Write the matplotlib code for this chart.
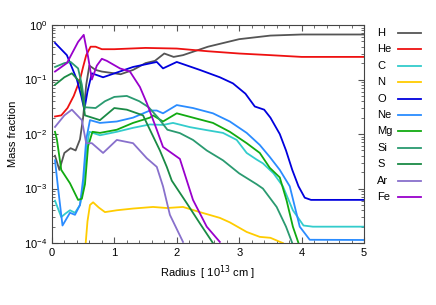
import matplotlib.pyplot as plt
from matplotlib.lines import Line2D
import numpy as np

plt.rcParams['font.family'] = ['Liberation Sans', 'DejaVu Sans']
plt.rcParams['font.size'] = 8

# --- mass fractions vs radius (10^13 cm) ---
h_r = [0.05, 0.12, 0.2, 0.3, 0.38, 0.45, 0.5, 0.55, 0.6, 0.7, 0.8, 1.0, 1.1, 1.3, 1.5, 1.65, 1.8, 1.95, 2.1, 2.5, 3.0, 3.5, 4.0, 5.0]
h_x = [4e-3, 2.2e-3, 4.5e-3, 5.5e-3, 5e-3, 8e-3, 0.02, 0.08, 0.18, 0.15, 0.14, 0.13, 0.125, 0.15, 0.2, 0.22, 0.3, 0.26, 0.28, 0.4, 0.55, 0.64, 0.67, 0.67]

he_r = [0.05, 0.15, 0.25, 0.35, 0.45, 0.5, 0.55, 0.62, 0.7, 0.8, 1.0, 1.5, 2.0, 2.5, 3.0, 3.5, 4.0, 5.0]
he_x = [0.021, 0.022, 0.03, 0.05, 0.1, 0.17, 0.28, 0.4, 0.4, 0.36, 0.36, 0.38, 0.37, 0.33, 0.3, 0.28, 0.26, 0.26]

c_r = [0.05, 0.15, 0.22, 0.29, 0.37, 0.45, 0.5, 0.55, 0.6, 0.77, 1.04, 1.3, 1.57, 1.78, 1.94, 2.21, 2.48, 2.74, 2.96, 3.12, 3.28, 3.38, 3.55, 3.7, 3.86, 4.03, 4.18, 5.0]
c_x = [6e-4, 3e-4, 3.5e-4, 4e-4, 3.6e-4, 5e-4, 1e-3, 5e-3, 0.011, 0.0095, 0.011, 0.013, 0.015, 0.0147, 0.016, 0.0134, 0.0118, 0.0105, 0.0078, 0.0045, 0.0034, 0.0029, 0.0019, 0.0011, 4e-4, 2.1e-4, 2e-4, 2e-4]

n_r = [0.52, 0.57, 0.61, 0.66, 0.75, 0.85, 1.04, 1.3, 1.62, 1.84, 2.1, 2.37, 2.69, 2.85, 3.12, 3.33, 3.5, 3.7]
n_x = [5e-5, 2.5e-4, 5e-4, 5.6e-4, 4.5e-4, 3.7e-4, 4e-4, 4.3e-4, 4.6e-4, 4.4e-4, 4.6e-4, 3.7e-4, 2.9e-4, 2.4e-4, 1.6e-4, 1.3e-4, 1.25e-4, 1e-4]

o_r = [0.05, 0.24, 0.4, 0.47, 0.52, 0.57, 0.64, 0.82, 1.3, 1.68, 1.78, 2.0, 2.37, 2.69, 2.9, 3.1, 3.25, 3.4, 3.5, 3.65, 3.75, 3.85, 3.95, 4.05, 4.15, 5.0]
o_x = [0.47, 0.28, 0.1, 0.05, 0.028, 0.06, 0.13, 0.11, 0.17, 0.21, 0.16, 0.21, 0.15, 0.11, 0.085, 0.055, 0.032, 0.028, 0.02, 0.01, 0.005, 0.0022, 0.0011, 6.8e-4, 6.2e-4, 6.2e-4]

ne_r = [0.05, 0.1, 0.17, 0.29, 0.37, 0.45, 0.5, 0.55, 0.61, 0.77, 1.04, 1.3, 1.57, 1.68, 1.78, 2.0, 2.26, 2.58, 2.85, 3.12, 3.33, 3.49, 3.65, 3.81, 3.97, 4.13, 5.0]
ne_x = [3.3e-3, 1e-3, 2.1e-4, 3.6e-4, 3.3e-4, 5e-4, 1.5e-3, 8e-3, 0.018, 0.016, 0.017, 0.02, 0.027, 0.027, 0.024, 0.034, 0.03, 0.024, 0.017, 0.0105, 0.0063, 0.0038, 0.0022, 0.0011, 2e-4, 1.15e-4, 1.14e-4]

mg_r = [0.05, 0.08, 0.15, 0.29, 0.42, 0.48, 0.53, 0.58, 0.65, 0.77, 1.04, 1.3, 1.57, 1.62, 1.78, 2.0, 2.26, 2.58, 2.85, 3.12, 3.33, 3.49, 3.65, 3.76, 3.86, 3.95]
mg_x = [0.011, 8e-3, 2.2e-3, 1.25e-3, 6.2e-4, 6.5e-4, 1.2e-3, 6e-3, 0.011, 0.0105, 0.012, 0.016, 0.02, 0.022, 0.017, 0.024, 0.02, 0.016, 0.011, 0.0068, 0.0045, 0.0024, 0.0016, 6e-4, 2e-4, 1e-4]

si_r = [0.05, 0.2, 0.3, 0.42, 0.48, 0.53, 0.7, 0.85, 1.0, 1.2, 1.4, 1.55, 1.7, 1.85, 2.05, 2.26, 2.48, 2.74, 3.0, 3.28, 3.38, 3.6, 3.75, 3.85]
si_x = [0.17, 0.2, 0.21, 0.16, 0.08, 0.031, 0.03, 0.04, 0.048, 0.05, 0.04, 0.031, 0.02, 0.012, 0.0104, 0.0078, 0.005, 0.0033, 0.0019, 0.0012, 0.001, 4.6e-4, 2e-4, 1e-4]

s_r = [0.05, 0.2, 0.32, 0.45, 0.5, 0.53, 0.77, 1.0, 1.2, 1.46, 1.57, 1.73, 1.84, 1.92, 2.16, 2.37, 2.58]
s_x = [0.08, 0.11, 0.13, 0.09, 0.04, 0.022, 0.018, 0.03, 0.028, 0.022, 0.012, 0.005, 0.0025, 1.4e-3, 5.4e-4, 2.3e-4, 1e-4]

ar_r = [0.05, 0.2, 0.32, 0.48, 0.55, 0.64, 0.82, 1.04, 1.3, 1.52, 1.68, 1.78, 1.89, 2.1]
ar_x = [0.0135, 0.022, 0.028, 0.018, 0.0068, 0.0068, 0.0045, 0.0078, 0.0068, 0.0036, 0.0025, 1.1e-3, 3.3e-4, 1.05e-4]

fe_r = [0.05, 0.24, 0.42, 0.51, 0.58, 0.64, 0.72, 0.8, 0.88, 1.09, 1.25, 1.41, 1.52, 1.68, 1.78, 2.05, 2.26, 2.48, 2.69]
fe_x = [0.14, 0.2, 0.49, 0.66, 0.26, 0.1, 0.18, 0.24, 0.22, 0.16, 0.14, 0.073, 0.037, 0.012, 0.0058, 0.0035, 6.2e-4, 2e-4, 1.05e-4]

species = ['H', 'He', 'C', 'N', 'O', 'Ne', 'Mg', 'Si', 'S', 'Ar', 'Fe']
radii = [h_r, he_r, c_r, n_r, o_r, ne_r, mg_r, si_r, s_r, ar_r, fe_r]
fracs = [h_x, he_x, c_x, n_x, o_x, ne_x, mg_x, si_x, s_x, ar_x, fe_x]
colors = ['#555555', '#ee1111', '#33cccc', '#ffcc00', '#0000dd', '#2a8cff',
          '#11aa11', '#2a9a70', '#1a8a45', '#8870cc', '#9900cc']

W, H = 436, 305
fig = plt.figure(figsize=(W / 100, H / 100), dpi=100)
ax = fig.add_axes([0.119, 0.203, 0.716, 0.715])

for name, r, x, c in zip(species, radii, fracs, colors):
    ax.plot(r, x, color=c, lw=1.3, label=name)

ax.set_yscale('log')
ax.set_xlim(0, 5)
ax.set_ylim(1e-4, 1)
ax.set_xticks([0, 1, 2, 3, 4, 5])
ax.set_xticks(np.arange(0, 5.01, 0.2), minor=True)
ax.tick_params(which='both', direction='in', top=True, right=True, color='#555555')
ax.tick_params(which='major', length=4)
ax.tick_params(which='minor', length=2)
for sp in ax.spines.values():
    sp.set_color('#444444')

ax.set_xlabel('Radius  [ 10$^{13}$ cm ]')
ax.set_ylabel('Mass fraction')

# legend: left-aligned labels with the line sample to their right
for i, (name, c) in enumerate(zip(species, colors)):
    yc = 1 - (33 + i * 16.4) / H
    fig.text(377 / W, yc, name, ha='left', va='center')
    fig.add_artist(Line2D([398 / W, 421 / W], [yc, yc], color=c, lw=1.3,
                          transform=fig.transFigure))

fig.savefig('out.png', dpi=100)
